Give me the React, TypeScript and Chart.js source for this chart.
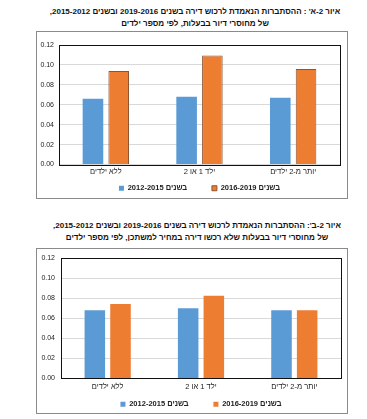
import React, { useEffect, useRef } from 'react';
import { Chart, registerables } from 'chart.js';

Chart.register(...registerables);

// ---- data ----
const categories = ['ללא ילדים', 'ילד 1 או 2', 'יותר מ-2 ילדים'];
const seriesNames = ['בשנים 2012-2015', 'בשנים 2016-2019'];
const chartA_2012_2015 = [0.066, 0.068, 0.067];
const chartA_2016_2019 = [0.094, 0.1095, 0.096];
const chartB_2012_2015 = [0.068, 0.07, 0.068];
const chartB_2016_2019 = [0.0742, 0.0825, 0.068];
const yMin = 0;
const yMax = 0.12;
const yStep = 0.02;

const titleA = [
  "איור 2-א' : ההסתברות הנאמדת לרכוש דירה בשנים 2019-2016 ובשנים 2015-2012,",
  'של מחוסרי דיור בבעלות, לפי מספר ילדים',
];
const titleB = [
  "איור 2-ב': ההסתברות הנאמדת לרכוש דירה בשנים 2019-2016 ובשנים 2015-2012,",
  'של מחוסרי דיור בבעלות שלא רכשו דירה במחיר למשתכן, לפי מספר ילדים',
];

const BLUE = '#5B9BD5';
const ORANGE = '#ED7D31';
const FONT = "'Liberation Sans', 'DejaVu Sans', Arial, sans-serif";

const areaBorder = {
  id: 'areaBorder',
  afterDatasetsDraw(chart: any) {
    const { ctx, chartArea } = chart;
    const { left, top, right, bottom } = chartArea;
    ctx.save();
    ctx.strokeStyle = '#111';
    ctx.lineWidth = 1;
    ctx.strokeRect(Math.round(left) + 0.5, Math.round(top) + 0.5, Math.round(right - left), Math.round(bottom - top));
    ctx.restore();
  },
};

type BoxProps = {
  left: number;
  top: number;
  width: number;
  height: number;
  canvasHeight: number;
  a: number[];
  b: number[];
  orangeBorder: boolean;
  pad: { left: number; right: number; top: number; bottom: number };
  yWidth: number;
  xHeight: number;
  yPad: number;
  xPad: number;
};

function ChartBox(p: BoxProps) {
  const ref = useRef<HTMLCanvasElement>(null);
  useEffect(() => {
    if (!ref.current) return;
    const chart = new Chart(ref.current, {
      type: 'bar',
      data: {
        labels: categories,
        datasets: [
          {
            label: seriesNames[0],
            data: p.a,
            backgroundColor: BLUE,
            borderColor: BLUE,
            borderWidth: 0,
            categoryPercentage: 0.55,
            barPercentage: 0.8,
          },
          {
            label: seriesNames[1],
            data: p.b,
            backgroundColor: ORANGE,
            borderColor: p.orangeBorder ? '#8E5532' : ORANGE,
            borderWidth: p.orangeBorder ? 1 : 0,
            categoryPercentage: 0.55,
            barPercentage: 0.8,
          },
        ],
      },
      options: {
        animation: false,
        responsive: false,
        devicePixelRatio: 1,
        layout: { padding: p.pad },
        plugins: {
          title: { display: false },
          tooltip: { enabled: false },
          legend: {
            display: true,
            position: 'bottom',
            fullSize: false,
            labels: {
              boxWidth: 5,
              boxHeight: 5,
              padding: 4,
              color: '#222',
              font: { family: FONT, size: 7.5, weight: 'bold' },
              generateLabels: (chart: any) => {
                const items = Chart.defaults.plugins.legend.labels.generateLabels(chart);
                if (items[0]) items[0].text = '          ' + items[0].text;
                return items;
              },
            },
          },
        },
        scales: {
          x: {
            grid: { display: false, drawTicks: false },
            border: { display: false },
            ticks: { color: '#222', padding: p.xPad, font: { family: FONT, size: 7.5 } },
            afterFit: (s: any) => {
              s.height = p.xHeight;
            },
          },
          y: {
            min: yMin,
            max: yMax,
            grid: { color: '#D9D9D9', drawTicks: false },
            border: { display: false },
            ticks: {
              stepSize: yStep,
              color: '#222',
              padding: p.yPad,
              font: { family: FONT, size: 7 },
              callback: (v: any) => Number(v).toFixed(2),
            },
            afterFit: (s: any) => {
              s.width = p.yWidth;
            },
          },
        },
      },
      plugins: [areaBorder],
    } as any);
    return () => chart.destroy();
  }, []);
  return (
    <>
      <div
        style={{
          position: 'absolute',
          left: p.left,
          top: p.top,
          width: p.width,
          height: p.height,
          boxSizing: 'border-box',
          border: '1.5px solid #8A8A8A',
        }}
      />
      <canvas
        ref={ref}
        width={p.width}
        height={p.canvasHeight}
        dir="rtl"
        style={{ position: 'absolute', left: p.left, top: p.top, width: p.width, height: p.canvasHeight, direction: 'rtl' }}
      />
    </>
  );
}

function Title({ lines, top, center }: { lines: string[]; top: number; center: number }) {
  return (
    <div
      dir="rtl"
      style={{
        position: 'absolute',
        left: center - 180,
        width: 360,
        top,
        textAlign: 'center',
        fontFamily: FONT,
        fontWeight: 'bold',
        fontSize: 8,
        lineHeight: '12px',
        color: '#111',
        whiteSpace: 'nowrap',
      }}
    >
      {lines.map((l, i) => (
        <div key={i}>{l}</div>
      ))}
    </div>
  );
}

export default function App() {
  return (
    <div style={{ position: 'fixed', left: 0, top: 0, width: 367, height: 419, background: '#fff', overflow: 'hidden' }}>
      <Title lines={titleA} top={6} center={195} />
      <ChartBox
        left={36}
        top={31}
        width={312}
        height={168}
        canvasHeight={171}
        a={chartA_2012_2015}
        b={chartA_2016_2019}
        orangeBorder={true}
        pad={{ left: 3, right: 8, top: 14, bottom: 0 }}
        yWidth={20}
        xHeight={16}
        yPad={5}
        xPad={3}
      />
      <Title lines={titleB} top={220} center={197} />
      <ChartBox
        left={36}
        top={248}
        width={312}
        height={166}
        canvasHeight={170}
        a={chartB_2012_2015}
        b={chartB_2016_2019}
        orangeBorder={false}
        pad={{ left: 3, right: 7, top: 7, bottom: 0 }}
        yWidth={22}
        xHeight={18}
        yPad={6}
        xPad={4}
      />
    </div>
  );
}
